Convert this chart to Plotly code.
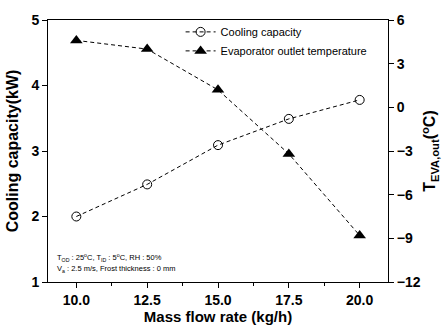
import plotly.graph_objects as go

mass_flow = [10.0, 12.5, 15.0, 17.5, 20.0]
cooling_capacity = [2.00, 2.49, 3.09, 3.49, 3.78]
outlet_temp = [4.6, 4.0, 1.2, -3.2, -8.8]

x_ticks = [10.0, 12.5, 15.0, 17.5, 20.0]
x_tick_labels = ["10.0", "12.5", "15.0", "17.5", "20.0"]
y1_ticks = [1, 2, 3, 4, 5]
y2_ticks = [-12, -9, -6, -3, 0, 3, 6]

FONT = "Liberation Sans, Arial, sans-serif"

fig = go.Figure()
fig.add_trace(go.Scatter(
    x=mass_flow, y=cooling_capacity, name="Cooling capacity",
    mode="lines+markers",
    line=dict(color="black", width=1, dash="4px,3px"),
    marker=dict(symbol="circle-open", size=9, color="black", line=dict(width=1, color="black")),
    yaxis="y",
))
fig.add_trace(go.Scatter(
    x=mass_flow, y=outlet_temp, name="Evaporator outlet temperature",
    mode="lines+markers",
    line=dict(color="black", width=1, dash="4px,3px"),
    marker=dict(symbol="triangle-up", size=11, color="black"),
    yaxis="y2",
))

axis_common = dict(
    showline=True, linecolor="black", linewidth=1, showgrid=False, zeroline=False,
    ticks="outside", ticklen=5, tickcolor="black",
    tickfont=dict(family=FONT, size=14, color="black", weight="bold"),
)

fig.update_layout(
    width=448, height=333,
    margin=dict(l=46, r=45, t=15, b=48),
    paper_bgcolor="white", plot_bgcolor="white",
    font=dict(family=FONT, color="black"),
    showlegend=True,
    legend=dict(
        x=0.39, y=1.01, xanchor="left", yanchor="top",
        bgcolor="rgba(0,0,0,0)", borderwidth=0,
        font=dict(family=FONT, size=11, color="black"),
        tracegroupgap=0, itemwidth=30,
    ),
    xaxis=dict(
        **axis_common,
        range=[9, 21], tickvals=x_ticks, ticktext=x_tick_labels,
        mirror=True,
        minor=dict(ticks="outside", ticklen=3, tickcolor="black", dtick=1.25, tick0=10),
        title=dict(text="Mass flow rate (kg/h)", standoff=3,
                   font=dict(family=FONT, size=15, color="black", weight="bold")),
    ),
    yaxis=dict(
        **axis_common,
        range=[1, 5], tickvals=y1_ticks,
        title=dict(text="Cooling capacity(kW)", standoff=8,
                   font=dict(family=FONT, size=16, color="black", weight="bold")),
    ),
    yaxis2=dict(
        **axis_common,
        overlaying="y", side="right",
        range=[-12, 6], tickvals=y2_ticks,
        title=dict(text="T<sub>EVA,out</sub>(<sup>o</sup>C)", standoff=4,
                   font=dict(family=FONT, size=16, color="black", weight="bold")),
    ),
    annotations=[
        dict(xref="paper", yref="paper", x=0.02, y=0.093, xanchor="left", yanchor="middle",
             showarrow=False, align="left",
             text="T<sub>OD</sub> : 25<sup>o</sup>C, T<sub>ID</sub> : 5<sup>o</sup>C, RH : 50%",
             font=dict(family=FONT, size=7.5, color="black")),
        dict(xref="paper", yref="paper", x=0.02, y=0.048, xanchor="left", yanchor="middle",
             showarrow=False, align="left",
             text="V<sub>a</sub> : 2.5 m/s, Frost thickness : 0 mm",
             font=dict(family=FONT, size=7.5, color="black")),
    ],
)

fig.write_html("out.html")
